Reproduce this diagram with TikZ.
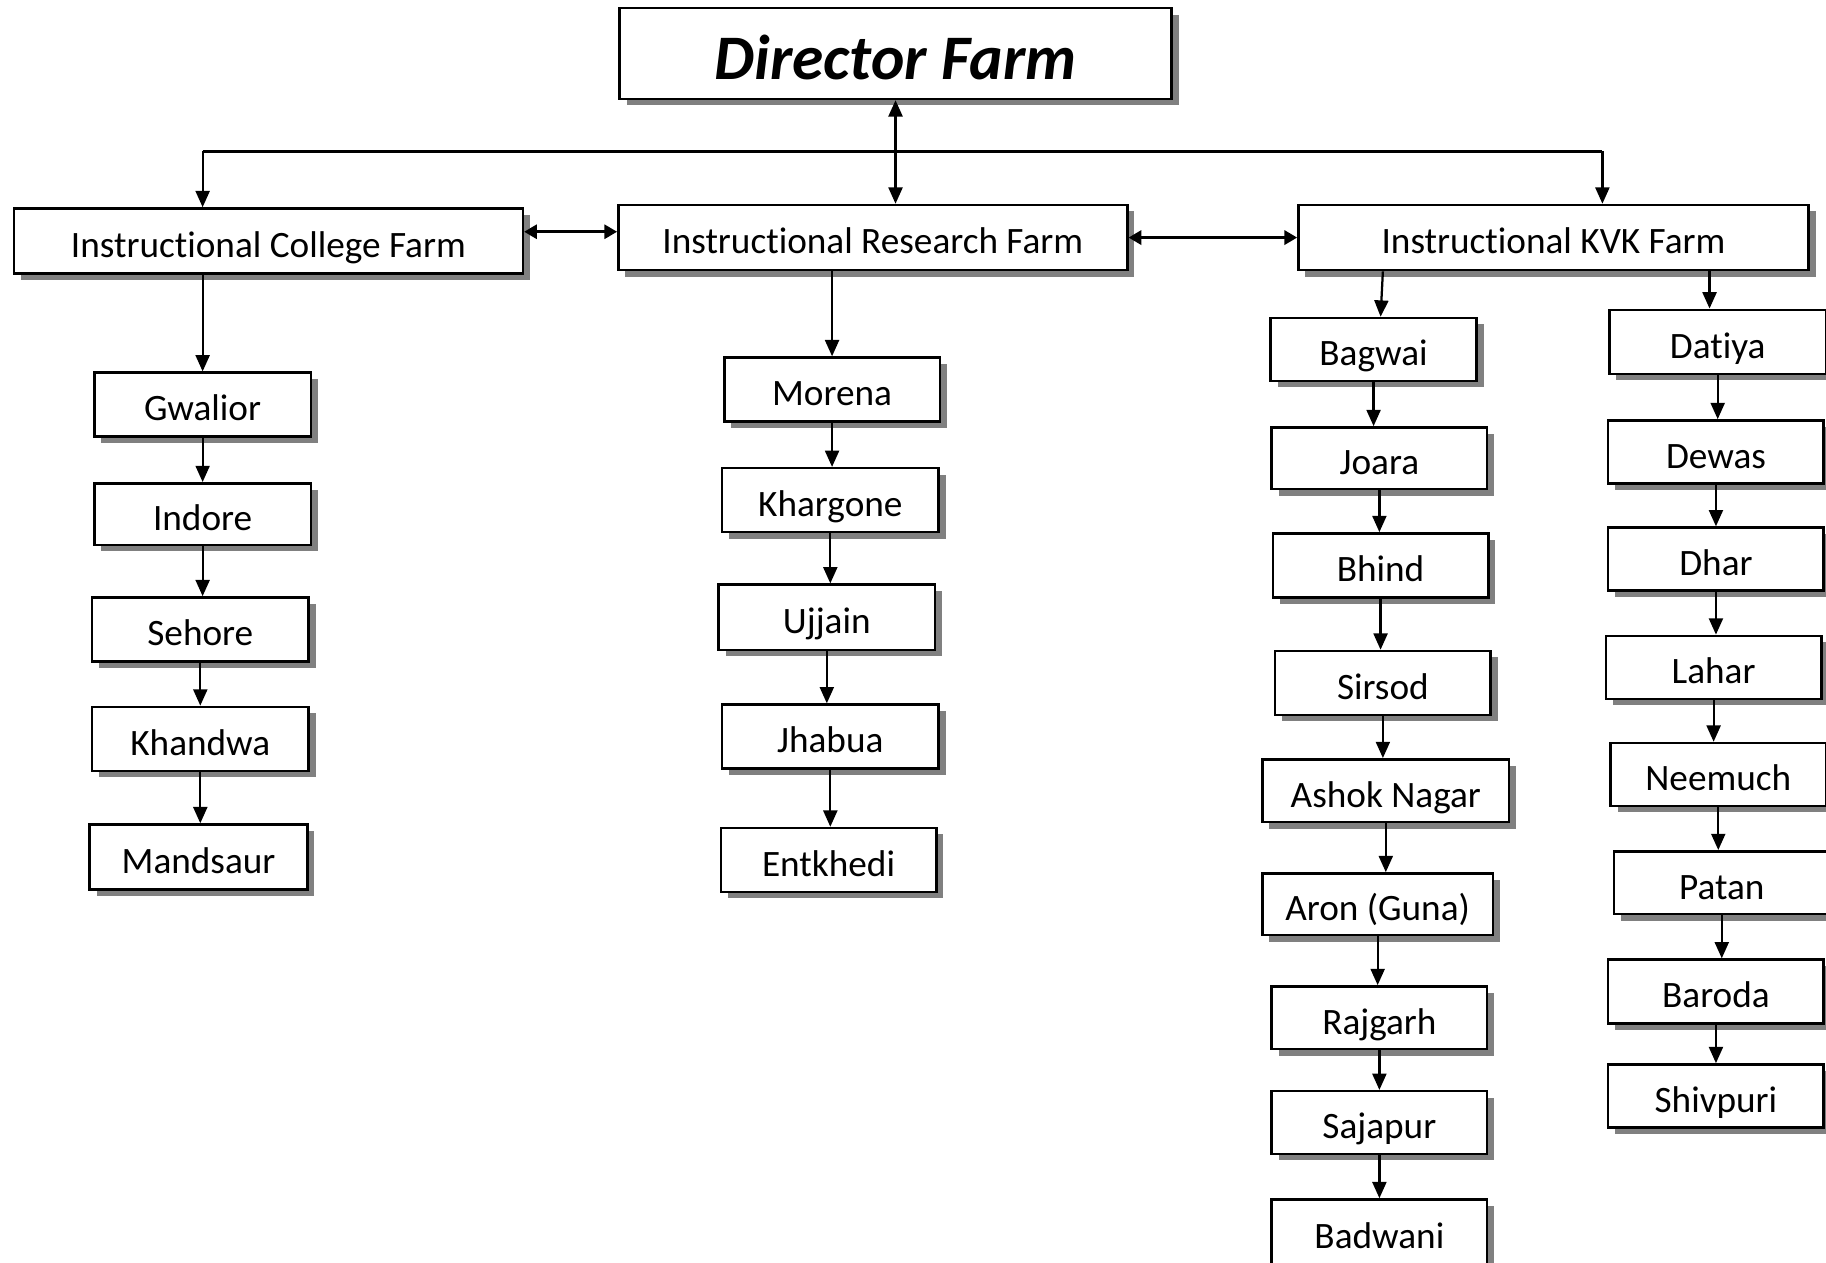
\documentclass[tikz,border=0pt]{standalone}
\usepackage{fontspec}
\setmainfont[Ligatures=NoCommon,Contextuals=NoAlternate]{Carlito}
\usepackage{tikz}
\usetikzlibrary{arrows.meta,shadows,positioning,calc}

\begin{document}
\begin{tikzpicture}[
  x=0.1mm, y=-0.1mm,
  mybox/.style={
    draw,
    line width=0.6pt,
    fill=white,
    rectangle,
    inner sep=0pt,
    minimum width=18.5mm,
    minimum height=5.5mm,
    text height=3.0mm,
    text depth=0.2mm,
    font=\fontsize{9.1}{11}\selectfont,
    drop shadow={shadow xshift=0.6mm, shadow yshift=-0.55mm, fill=gray, opacity=1}
    },
  myarrow/.style={
    line width=0.55pt,
    -{Triangle[length=1.4mm,width=1.2mm]}
    },
  mylink/.style={
    line width=0.8pt,
    {Triangle[length=1.1mm,width=1.2mm]}-{Triangle[length=1.1mm,width=1.2mm]}
    }
]
\useasboundingbox (0,0) rectangle (1568,1084);

% top
\node [mybox, minimum width=47.4mm, minimum height=7.8mm, text height=4.6mm,
  font=\fontsize{15.5}{18}\selectfont\bfseries\itshape] (dir) at (769,46) {Director Farm};
\node [mybox, minimum width=43.7mm, minimum height=5.6mm] (col) at (230.5,207) {Instructional College Farm};
\node [mybox, minimum width=43.7mm, minimum height=5.6mm] (res) at (749.5,204) {Instructional Research Farm};
\node [mybox, minimum width=43.8mm, minimum height=5.6mm] (kvk) at (1334,204) {Instructional KVK Farm};

% college farms
\node [mybox, minimum width=18.6mm] (gwa) at (174,347.5) {Gwalior};
\node [mybox, minimum width=18.6mm, minimum height=5.3mm] (ind) at (174,441.5) {Indore};
\node [mybox, minimum width=18.6mm] (seh) at (172,540.5) {Sehore};
\node [mybox, minimum width=18.6mm] (kha) at (172,634.5) {Khandwa};
\node [mybox, minimum width=18.7mm, minimum height=5.6mm] (man) at (170.5,736) {Mandsaur};

% research farms
\node [mybox] (mor) at (714.5,334.5) {Morena};
\node [mybox, minimum width=18.6mm] (khr) at (713,429.5) {Khargone};
\node [mybox, minimum width=18.6mm, minimum height=5.6mm] (ujj) at (710,530) {Ujjain};
\node [mybox, minimum width=18.6mm] (jha) at (713,632.5) {Jhabua};
\node [mybox] (ent) at (711.5,738.5) {Entkhedi};

% kvk farms, left
\node [mybox, minimum width=17.7mm, minimum height=5.4mm] (bag) at (1179.5,300) {Bagwai};
\node [mybox, minimum height=5.3mm] (joa) at (1184.5,393.5) {Joara};
\node [mybox] (bhi) at (1185.5,485.5) {Bhind};
\node [mybox] (sir) at (1187.5,586.5) {Sirsod};
\node [mybox, minimum width=21.2mm, minimum height=5.4mm] (ash) at (1190,679) {Ashok Nagar};
\node [mybox, minimum width=19.8mm, minimum height=5.3mm] (aro) at (1183,776.5) {Aron (Guna)};
\node [mybox, minimum height=5.4mm] (raj) at (1184.5,874) {Rajgarh};
\node [mybox, minimum height=5.4mm] (saj) at (1184.5,964) {Sajapur};
\node [mybox, minimum height=5.6mm] (bad) at (1184.5,1058) {Badwani};

% kvk farms, right
\node [mybox, minimum width=18.6mm] (dat) at (1475,293.5) {Datiya};
\node [mybox, minimum height=5.4mm] (dew) at (1473.5,388) {Dewas};
\node [mybox, minimum height=5.4mm] (dha) at (1473.5,480) {Dhar};
\node [mybox, minimum height=5.4mm] (lah) at (1471.5,573) {Lahar};
\node [mybox, minimum height=5.4mm] (nee) at (1475.5,665) {Neemuch};
\node [mybox, minimum height=5.4mm] (pat) at (1478.5,758) {Patan};
\node [mybox] (bar) at (1473.5,851.5) {Baroda};
\node [mybox, minimum height=5.4mm] (shi) at (1473.5,941) {Shivpuri};

% links from the top
\coordinate (busl) at (174,130);
\coordinate (busr) at (1376,130);
\draw [line width=0.8pt] (busl) -- (busr);
\draw [myarrow] (busl) -- (busl |- col.north);
\draw [myarrow] (busr) -- (busr |- kvk.north);
\draw [myarrow, {Triangle[length=1.4mm,width=1.2mm]}-{Triangle[length=1.4mm,width=1.2mm]}] (dir.south) -- (dir.south |- res.north);
\draw [mylink] ([yshift=0.8mm]col.east) -- ([yshift=0.5mm]res.west);
\draw [mylink] (res.east) -- (kvk.west);

\draw [myarrow] (col.south -| gwa.north) -- (gwa.north);
\draw [myarrow] (res.south -| mor.north) -- (mor.north);
\draw [myarrow] ([xshift=0.8mm]kvk.south -| bag.north) -- ([xshift=0.6mm]bag.north);
\draw [myarrow] ([xshift=-0.7mm]kvk.south -| dat.north) -- ([xshift=-0.7mm]dat.north);

% chains
\foreach \a/\b in {gwa/ind, ind/seh, seh/kha, kha/man,
  mor/khr, khr/ujj, ujj/jha, jha/ent,
  bag/joa, joa/bhi, bhi/sir, sir/ash, ash/aro, aro/raj, raj/saj, saj/bad,
  dat/dew, dew/dha, dha/lah, lah/nee, nee/pat, pat/bar, bar/shi}
  \draw [myarrow] (\a.south) -- (\a.south |- \b.north);

\end{tikzpicture}
\end{document}
